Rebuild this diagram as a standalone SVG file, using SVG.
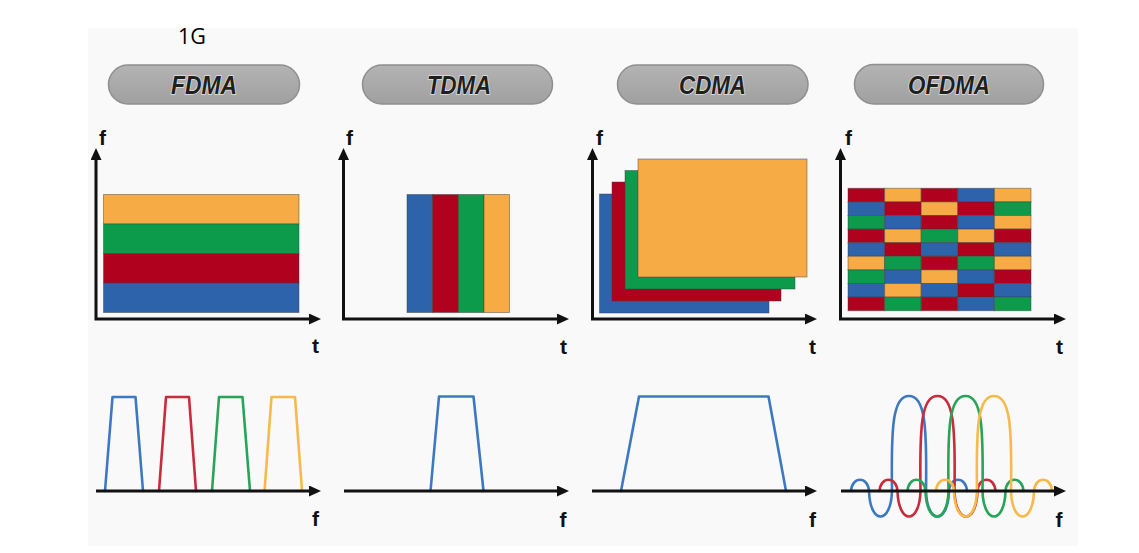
<svg xmlns="http://www.w3.org/2000/svg" width="1139" height="553" viewBox="0 0 1139 553">
<style>
.pill{fill:url(#pg);stroke:#8f8f8f;stroke-width:1.5}
.ptxt{font-family:"Liberation Sans",Arial,sans-serif;font-weight:bold;font-style:italic;font-size:26px;fill:#1f1f1f;stroke:#e2e2e2;stroke-width:1.6;paint-order:stroke;text-anchor:middle}
.lbl{font-family:"Liberation Sans",Arial,sans-serif;font-weight:bold;font-size:21px;fill:#111;text-anchor:middle}
.axis{fill:none;stroke:#111;stroke-width:3}
.cell{stroke:#3a3a3a;stroke-opacity:0.45;stroke-width:1}
.B{fill:#2c63ab}.R{fill:#b0021f}.G{fill:#0b9b4a}.Y{fill:#f6ab45}
.w{fill:none;stroke-width:2.6;stroke-linejoin:round;stroke-linecap:round}
.wb{stroke:#3d79c2}.wr{stroke:#c92a3c}.wg{stroke:#27a458}.wy{stroke:#f8b94a}
</style>
<defs>
<linearGradient id="pg" x1="0" y1="0" x2="0" y2="1">
<stop offset="0" stop-color="#b3b3b3"/><stop offset="1" stop-color="#a0a0a0"/>
</linearGradient>
<marker id="ah" markerUnits="userSpaceOnUse" markerWidth="12" markerHeight="11" refX="4" refY="5.5" orient="auto-start-reverse" viewBox="0 0 12 11">
<path d="M0,0 L12,5.5 L0,11 z" fill="#111"/>
</marker>
</defs>
<rect x="0" y="0" width="1139" height="553" fill="#ffffff"/>
<rect x="88" y="28" width="990" height="518" fill="#f9f9f9"/>
<text x="178" y="43.5" font-family="'Open Sans','Liberation Sans',Arial,sans-serif" font-size="21.5" fill="#000">1G</text>

<g id="fdma">
<rect class="pill" x="108.5" y="65" width="191" height="39" rx="19.5"/>
<text class="ptxt" x="204" y="94" textLength="66" lengthAdjust="spacingAndGlyphs">FDMA</text>
<rect class="cell Y" x="103.5" y="194.5" width="195.5" height="29.5"/>
<rect class="cell G" x="103.5" y="224" width="195.5" height="29.5"/>
<rect class="cell R" x="103.5" y="253.5" width="195.5" height="29.5"/>
<rect class="cell B" x="103.5" y="283" width="195.5" height="29.5"/>
<path class="w wb" d="M105,491 L112.5,397 L135.5,397 L143,491"/>
<path class="w wr" d="M159,491 L166,397 L189,397 L196,491"/>
<path class="w wg" d="M212,491 L219,397 L242.5,397 L250,491"/>
<path class="w wy" d="M264.5,491 L271.5,397 L295,397 L302,491"/>
<text class="lbl" x="102.5" y="145">f</text>
<text class="lbl" x="315.5" y="353">t</text>
<text class="lbl" x="315.5" y="526">f</text>
</g>

<g id="tdma">
<rect class="pill" x="362.5" y="65" width="190" height="39" rx="19.5"/>
<text class="ptxt" x="459" y="94" textLength="64" lengthAdjust="spacingAndGlyphs">TDMA</text>
<rect class="cell B" x="407" y="194.5" width="25.5" height="118"/>
<rect class="cell R" x="432.5" y="194.5" width="26" height="118"/>
<rect class="cell G" x="458.5" y="194.5" width="25.5" height="118"/>
<rect class="cell Y" x="484" y="194.5" width="25.5" height="118"/>
<path class="w wb" d="M430.5,491 L439,396.5 L473.5,396.5 L483.5,491"/>
<text class="lbl" x="349.5" y="145">f</text>
<text class="lbl" x="563.5" y="354">t</text>
<text class="lbl" x="563" y="526.5">f</text>
</g>

<g id="cdma">
<rect class="pill" x="617.5" y="65" width="190.5" height="39" rx="19.5"/>
<text class="ptxt" x="712.5" y="94" textLength="67" lengthAdjust="spacingAndGlyphs">CDMA</text>
<rect class="cell B" x="599.5" y="194" width="169.5" height="119"/>
<rect class="cell R" x="612" y="182" width="169" height="119"/>
<rect class="cell G" x="625" y="170.5" width="170" height="118.5"/>
<rect class="cell Y" x="638" y="159" width="169" height="118"/>
<path class="w wb" d="M621,491 L639,396.5 L768.5,396.5 L786,491"/>
<text class="lbl" x="599.5" y="145">f</text>
<text class="lbl" x="812.5" y="354">t</text>
<text class="lbl" x="812.5" y="526.5">f</text>
</g>

<g id="ofdma">
<rect class="pill" x="854.5" y="64.5" width="189" height="39.5" rx="19.5"/>
<text class="ptxt" x="949" y="94" textLength="82" lengthAdjust="spacingAndGlyphs">OFDMA</text>
<g id="ofdma-grid">
<rect class="cell R" x="848" y="188.3" width="36.6" height="13.6"/><rect class="cell Y" x="884.6" y="188.3" width="36.6" height="13.6"/><rect class="cell R" x="921.2" y="188.3" width="36.6" height="13.6"/><rect class="cell B" x="957.8" y="188.3" width="36.6" height="13.6"/><rect class="cell Y" x="994.4" y="188.3" width="36.6" height="13.6"/>
<rect class="cell B" x="848" y="201.9" width="36.6" height="13.6"/><rect class="cell R" x="884.6" y="201.9" width="36.6" height="13.6"/><rect class="cell Y" x="921.2" y="201.9" width="36.6" height="13.6"/><rect class="cell R" x="957.8" y="201.9" width="36.6" height="13.6"/><rect class="cell G" x="994.4" y="201.9" width="36.6" height="13.6"/>
<rect class="cell G" x="848" y="215.5" width="36.6" height="13.6"/><rect class="cell B" x="884.6" y="215.5" width="36.6" height="13.6"/><rect class="cell R" x="921.2" y="215.5" width="36.6" height="13.6"/><rect class="cell B" x="957.8" y="215.5" width="36.6" height="13.6"/><rect class="cell Y" x="994.4" y="215.5" width="36.6" height="13.6"/>
<rect class="cell R" x="848" y="229.1" width="36.6" height="13.6"/><rect class="cell Y" x="884.6" y="229.1" width="36.6" height="13.6"/><rect class="cell G" x="921.2" y="229.1" width="36.6" height="13.6"/><rect class="cell Y" x="957.8" y="229.1" width="36.6" height="13.6"/><rect class="cell R" x="994.4" y="229.1" width="36.6" height="13.6"/>
<rect class="cell B" x="848" y="242.7" width="36.6" height="13.6"/><rect class="cell R" x="884.6" y="242.7" width="36.6" height="13.6"/><rect class="cell B" x="921.2" y="242.7" width="36.6" height="13.6"/><rect class="cell R" x="957.8" y="242.7" width="36.6" height="13.6"/><rect class="cell B" x="994.4" y="242.7" width="36.6" height="13.6"/>
<rect class="cell Y" x="848" y="256.3" width="36.6" height="13.6"/><rect class="cell G" x="884.6" y="256.3" width="36.6" height="13.6"/><rect class="cell R" x="921.2" y="256.3" width="36.6" height="13.6"/><rect class="cell G" x="957.8" y="256.3" width="36.6" height="13.6"/><rect class="cell Y" x="994.4" y="256.3" width="36.6" height="13.6"/>
<rect class="cell G" x="848" y="269.9" width="36.6" height="13.6"/><rect class="cell B" x="884.6" y="269.9" width="36.6" height="13.6"/><rect class="cell Y" x="921.2" y="269.9" width="36.6" height="13.6"/><rect class="cell B" x="957.8" y="269.9" width="36.6" height="13.6"/><rect class="cell R" x="994.4" y="269.9" width="36.6" height="13.6"/>
<rect class="cell B" x="848" y="283.5" width="36.6" height="13.6"/><rect class="cell Y" x="884.6" y="283.5" width="36.6" height="13.6"/><rect class="cell B" x="921.2" y="283.5" width="36.6" height="13.6"/><rect class="cell R" x="957.8" y="283.5" width="36.6" height="13.6"/><rect class="cell B" x="994.4" y="283.5" width="36.6" height="13.6"/>
<rect class="cell R" x="848" y="297.1" width="36.6" height="13.6"/><rect class="cell G" x="884.6" y="297.1" width="36.6" height="13.6"/><rect class="cell R" x="921.2" y="297.1" width="36.6" height="13.6"/><rect class="cell B" x="957.8" y="297.1" width="36.6" height="13.6"/><rect class="cell G" x="994.4" y="297.1" width="36.6" height="13.6"/>
</g>
<path class="w wb" d="M851,491 C852,476 868,476 869,491 C870,525 891,525 892,491 C891,425 893,396 909,396 C925,396 927,425 926,491 C927,525 948,525 949,491 C950,476 966,476 967,491"/>
<path class="w wr" d="M879.5,491 C880.5,476 896.5,476 897.5,491 C898.5,525 919.5,525 920.5,491 C919.5,425 921.5,396 937.5,396 C953.5,396 955.5,425 954.5,491 C955.5,525 976.5,525 977.5,491 C978.5,476 994.5,476 995.5,491"/>
<path class="w wg" d="M907.5,491 C908.5,476 924.5,476 925.5,491 C926.5,525 947.5,525 948.5,491 C947.5,425 949.5,396 965.5,396 C981.5,396 983.5,425 982.5,491 C983.5,525 1004.5,525 1005.5,491 C1006.5,476 1022.5,476 1023.5,491"/>
<path class="w wy" d="M936,491 C937,476 953,476 954,491 C955,525 976,525 977,491 C976,425 978,396 994,396 C1010,396 1012,425 1011,491 C1012,525 1033,525 1034,491 C1035,476 1051,476 1052,491"/>
<text class="lbl" x="848.5" y="145">f</text>
<text class="lbl" x="1059.5" y="354">t</text>
<text class="lbl" x="1059" y="526.5">f</text>
</g>

<g id="axes">
<path class="axis" d="M96,156 V319 H313" marker-start="url(#ah)" marker-end="url(#ah)"/>
<path class="axis" d="M343.5,156 V319 H561" marker-start="url(#ah)" marker-end="url(#ah)"/>
<path class="axis" d="M592.5,156 V319 H809" marker-start="url(#ah)" marker-end="url(#ah)"/>
<path class="axis" d="M840.5,156 V319 H1058" marker-start="url(#ah)" marker-end="url(#ah)"/>
<path class="axis" d="M96,491 H313" marker-end="url(#ah)"/>
<path class="axis" d="M344,491 H561" marker-end="url(#ah)"/>
<path class="axis" d="M592,491 H809" marker-end="url(#ah)"/>
<path class="axis" d="M841,491 H1058" marker-end="url(#ah)"/>
</g>
</svg>
